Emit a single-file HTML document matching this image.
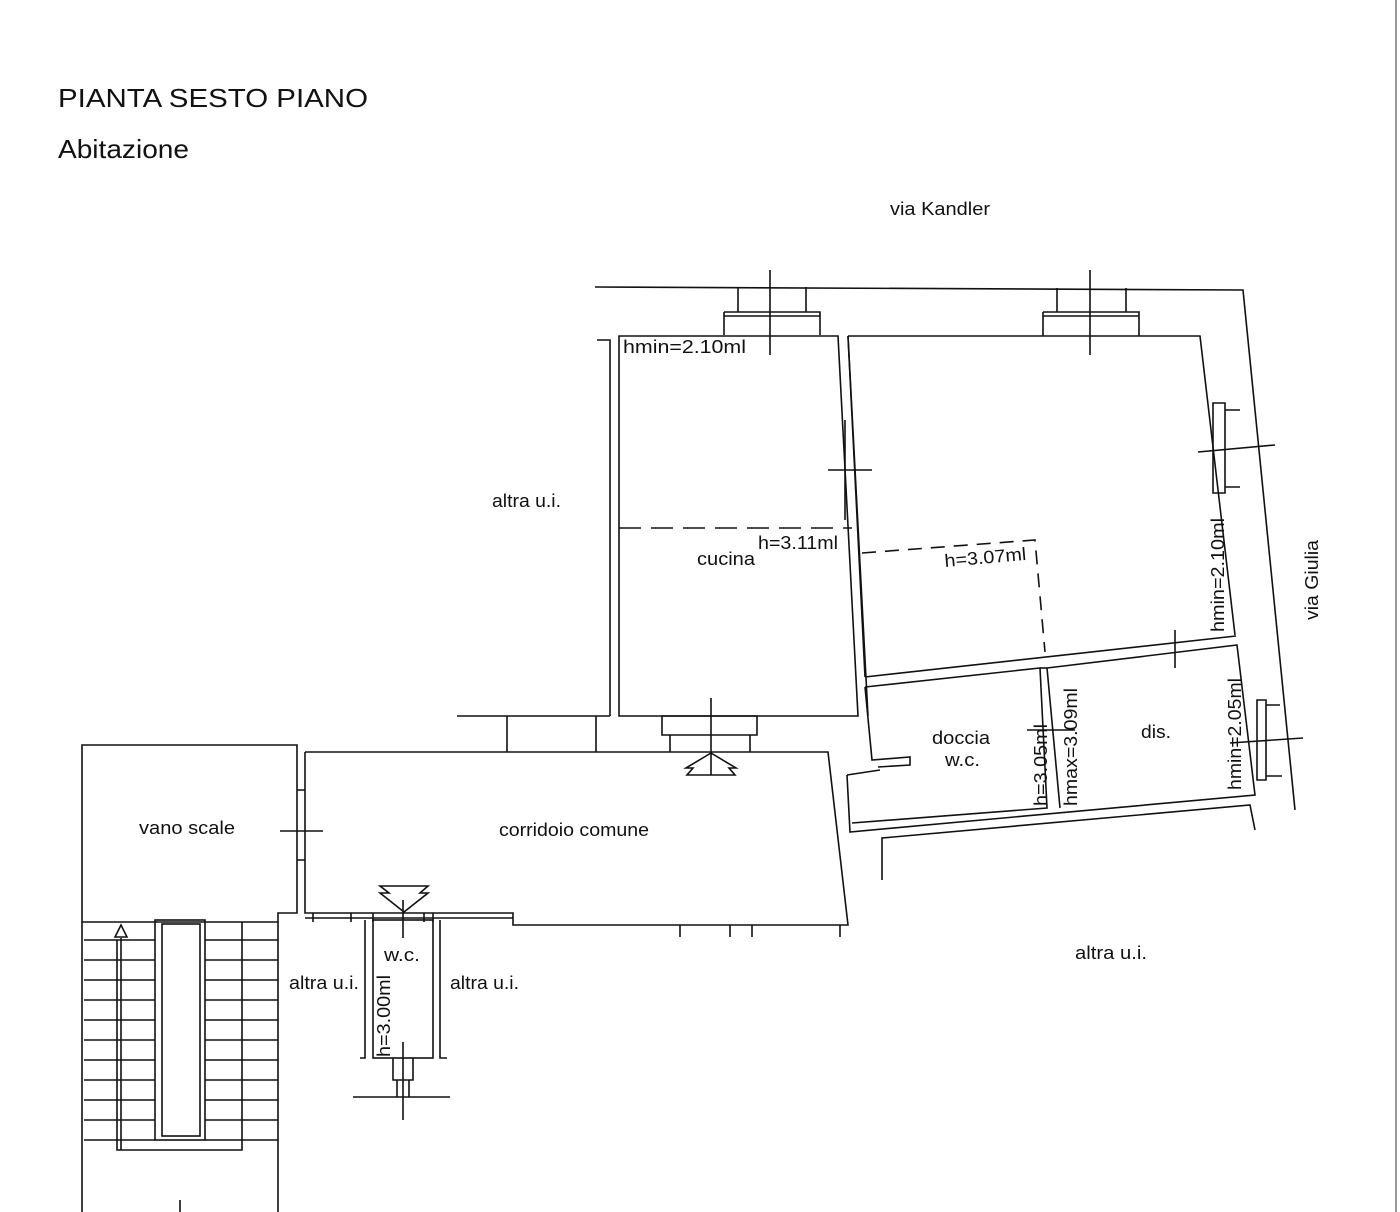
<!DOCTYPE html>
<html><head><meta charset="utf-8"><style>
html,body{margin:0;padding:0;background:#fff}
svg{display:block}
text{font-family:"Liberation Sans",sans-serif;fill:#111}
</style></head><body>
<svg width="1400" height="1212" viewBox="0 0 1400 1212" xmlns="http://www.w3.org/2000/svg">
<rect width="1400" height="1212" fill="#fff"/>
<line x1="1396" y1="0" x2="1396" y2="1212" stroke="#999" stroke-width="2"/>
<g lengthAdjust="spacingAndGlyphs">
<text x="58" y="107" font-size="26" textLength="310" lengthAdjust="spacingAndGlyphs">PIANTA SESTO PIANO</text>
<text x="58" y="158" font-size="26" textLength="131" lengthAdjust="spacingAndGlyphs">Abitazione</text>
<text x="890" y="215" font-size="18" textLength="100" lengthAdjust="spacingAndGlyphs">via Kandler</text>
<text x="492" y="507" font-size="18" textLength="69" lengthAdjust="spacingAndGlyphs">altra u.i.</text>
<text x="1075" y="959" font-size="18" textLength="72" lengthAdjust="spacingAndGlyphs">altra u.i.</text>
<text x="289" y="989" font-size="18" textLength="70" lengthAdjust="spacingAndGlyphs">altra u.i.</text>
<text x="450" y="989" font-size="18" textLength="69" lengthAdjust="spacingAndGlyphs">altra u.i.</text>
<text x="139" y="834" font-size="18" textLength="96" lengthAdjust="spacingAndGlyphs">vano scale</text>
<text x="499" y="836" font-size="18" textLength="150" lengthAdjust="spacingAndGlyphs">corridoio comune</text>
<text x="697" y="565" font-size="18" textLength="58" lengthAdjust="spacingAndGlyphs">cucina</text>
<text x="758" y="549" font-size="18" textLength="80" lengthAdjust="spacingAndGlyphs">h=3.11ml</text>
<text x="623" y="353" font-size="18" textLength="123" lengthAdjust="spacingAndGlyphs">hmin=2.10ml</text>
<text x="945" y="567" font-size="18" textLength="82" lengthAdjust="spacingAndGlyphs" transform="rotate(-5 945 567)">h=3.07ml</text>
<text x="932" y="744" font-size="18" textLength="58" lengthAdjust="spacingAndGlyphs">doccia</text>
<text x="945" y="766" font-size="18" textLength="35" lengthAdjust="spacingAndGlyphs">w.c.</text>
<text x="1141" y="738" font-size="18" textLength="30" lengthAdjust="spacingAndGlyphs">dis.</text>
<text x="384" y="961" font-size="18" textLength="36" lengthAdjust="spacingAndGlyphs">w.c.</text>
<text font-size="18" transform="translate(1318 620) rotate(-90)" textLength="80" lengthAdjust="spacingAndGlyphs">via Giulia</text>
<text font-size="18" transform="translate(1224 632) rotate(-90)" textLength="114" lengthAdjust="spacingAndGlyphs">hmin=2.10ml</text>
<text font-size="18" transform="translate(1241 790) rotate(-90)" textLength="112" lengthAdjust="spacingAndGlyphs">hmin=2.05ml</text>
<text font-size="18" transform="translate(1047 806) rotate(-90)" textLength="82" lengthAdjust="spacingAndGlyphs">h=3.05ml</text>
<text font-size="18" transform="translate(1077 806) rotate(-90)" textLength="118" lengthAdjust="spacingAndGlyphs">hmax=3.09ml</text>
<text font-size="18" transform="translate(390 1057) rotate(-90)" textLength="82" lengthAdjust="spacingAndGlyphs">h=3.00ml</text>
</g>
<g stroke="#111" stroke-width="1.6" fill="none">
<polyline points="595,287 1243,290 1295,810"/>
<path d="M738 287V312M806 287V312M724 312H820V335M724 312V335M724 316H820M770 270V355"/>
<path d="M1057 288V312M1126 288V312M1043 312H1139V336M1043 312V336M1043 316H1139M1090 270V355"/>
<path d="M597 340H610V716"/>
<polygon points="619,336 838,336 858,716 619,716"/>
<path d="M848 336L868 716" />
<path d="M828 470H872M845 420V520"/>
<line x1="619" y1="528" x2="852" y2="528" stroke-dasharray="22,10"/>
<polyline points="848,336 1200,336 1235,635"/>
<line x1="865" y1="677" x2="1236" y2="636"/>
<line x1="848" y1="336" x2="865" y2="677"/>
<polyline points="862,553 1035,540 1045,652" stroke-dasharray="14,9"/>
<path d="M1213 403H1225V493H1213ZM1225 410H1240M1225 487H1240M1198 452L1275 445M1175 630V668"/>
<polyline points="865,687 1040,668 1047,808 852,823"/>
<polyline points="865,687 872,760 910,757 910,765 878,767"/>
<polyline points="847,775 850,832 1255,795 1237,645 1047,668"/>
<line x1="1047" y1="668" x2="1060" y2="808"/>
<line x1="1040" y1="668" x2="1047" y2="668"/>
<line x1="847" y1="775" x2="880" y2="770"/>
<path d="M1257 700H1266V780H1257ZM1266 705H1280M1266 776H1282M1230 743L1303 738M1027 730H1075"/>
<polyline points="882,880 882,838 1250,805 1255,830"/>
<path d="M457 716H610M507 716V752M596 716V752"/>
<path d="M662 735V716H757V735ZM670 735V752M750 735V752M711 698V775"/>
<polygon points="711,753 686,768 693,768 687,775 735,775 729,768 736,768" />
<polyline points="305,752 828,752 848,925 513,925 513,913 305,913 305,752"/>
<path d="M680 925V937M730 925V937M752 925V937M840 925V937"/>
<polyline points="82,1212 82,745 297,745 297,913 278,913 278,1212"/>
<path d="M297 790H305M297 860H305M280 831H323"/>
<path d="M305 918H513M313 913V922M351 913V922M373 913V922M424 913V922M433 913V922"/>
<rect x="373" y="920" width="60" height="138"/>
<path d="M365 920V1058H360M440 920V1058H447M393 1058V1080H413V1058M397 1080V1097M409 1080V1097M353 1097H450M403 1042V1120M403 900V938"/>
<polygon points="404,912 380,893 389,893 380,886 428,886 420,893 428,893"/>
<rect x="155" y="920" width="50" height="220"/>
<rect x="162" y="924" width="38" height="212"/>
<path d="M82 922H278"/>
<path d="M84 940H155M84 960H155M84 980H155M84 1000H155M84 1020H155M84 1040H155M84 1060H155M84 1080H155M84 1100H155M84 1120H155M84 1140H155"/>
<path d="M205 940H278M205 960H278M205 980H278M205 1000H278M205 1020H278M205 1040H278M205 1060H278M205 1080H278M205 1100H278M205 1120H278M205 1140H278"/>
<path d="M242 922V1150H117V940M121 938V1150M180 1200V1212"/>
<polygon points="115,937 121,925 127,937"/>
</g>
</svg>
</body></html>
